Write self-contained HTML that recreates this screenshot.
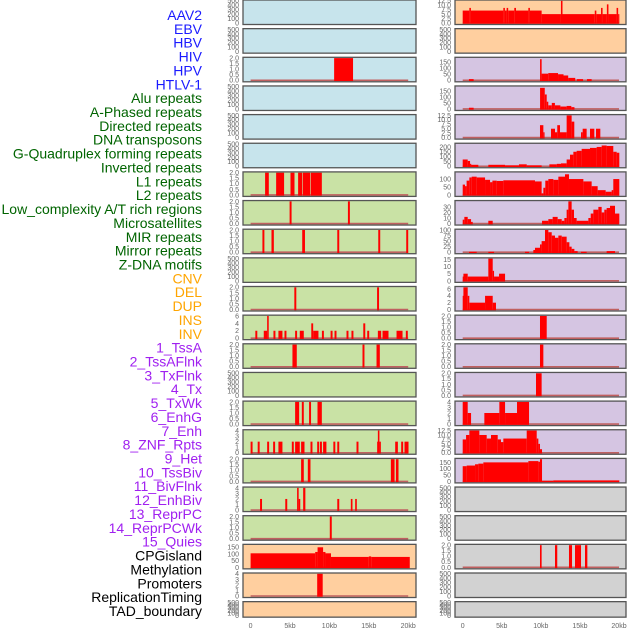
<!DOCTYPE html>
<html><head><meta charset="utf-8"><style>
html,body{margin:0;padding:0;background:#fff;}
svg{display:block;font-family:"Liberation Sans",sans-serif;}
</style></head><body>
<svg id="chart" width="630" height="630" viewBox="0 0 630 630" xmlns="http://www.w3.org/2000/svg"></svg>
<script>
const labels = ["AAV2","EBV","HBV","HIV","HPV","HTLV-1","Alu repeats","A-Phased repeats","Directed repeats","DNA transposons","G-Quadruplex forming repeats","Inverted repeats","L1 repeats","L2 repeats","Low_complexity A/T rich regions","Microsatellites","MIR repeats","Mirror repeats","Z-DNA motifs","CNV","DEL","DUP","INS","INV","1_TssA","2_TssAFlnk","3_TxFlnk","4_Tx","5_TxWk","6_EnhG","7_Enh","8_ZNF_Rpts","9_Het","10_TssBiv","11_BivFlnk","12_EnhBiv","13_ReprPC","14_ReprPCWk","15_Quies","CPGisland","Methylation","Promoters","ReplicationTiming","TAD_boundary"];
const labelGroups = [6,13,5,15,5];
const groupColors = ["#1a1aff","#006400","#ffa500","#a020f0","#000000"];
const xTicks = [0,5,10,15,20];
const xTickLabels = ["0","5kb","10kb","15kb","20kb"];
const leftBg = ["b","b","b","b","b","b","g","g","g","g","g","g","g","g","g","g","g","g","g","o","o","o"];
const rightBg = ["o","o","p","p","p","p","p","p","p","p","p","p","p","p","p","p","p","y","y","y","y","y"];
const leftYmax = [500,500,2,500,500,500,2,2,2,500,2,6,2,500,2,4,2,4,2,166,4,500];
const rightYmax = [12.5,500,184,184,12.5,230,140,40,100,15.5,6.5,2,2,2,4,12.5,175,500,500,2,500,500];
const leftTicks = [[0,100,200,300,400,500],[0,100,200,300,400,500],[0,0.5,1,1.5,2],[0,100,200,300,400,500],[0,100,200,300,400,500],[0,100,200,300,400,500],[0,0.5,1,1.5,2],[0,0.5,1,1.5,2],[0,0.5,1,1.5,2],[0,100,200,300,400,500],[0,0.5,1,1.5,2],[0,2,4,6],[0,0.5,1,1.5,2],[0,100,200,300,400,500],[0,0.5,1,1.5,2],[0,1,2,3,4],[0,0.5,1,1.5,2],[0,1,2,3,4],[0,0.5,1,1.5,2],[0,50,100,150],[0,1,2,3,4],[0,100,200,300,400,500]];
const rightTicks = [[0,2.5,5,7.5,10,12.5],[0,100,200,300,400,500],[0,50,100,150],[0,50,100,150],[0,2.5,5,7.5,10,12.5],[0,50,100,150,200],[0,50,100],[0,10,20,30],[0,25,50,75,100],[0,5,10,15],[0,2,4,6],[0,0.5,1,1.5,2],[0,0.5,1,1.5,2],[0,0.5,1,1.5,2],[0,1,2,3,4],[0,2.5,5,7.5,10,12.5],[0,50,100,150],[0,100,200,300,400,500],[0,100,200,300,400,500],[0,0.5,1,1.5,2],[0,100,200,300,400,500],[0,100,200,300,400,500]];
// segments: [startKb, endKb, value]
const leftSeries = [
 null,null,
 [[10.6,13.0,2]],
 null,null,null,
 [[1.84,2.31,2],[3.24,4.25,2],[5.06,5.57,2],[6.03,6.54,2],[6.62,7.56,2],[7.64,9.04,2]],
 [[4.95,5.2,2],[12.35,12.6,2]],
 [[1.5,1.75,2],[2.65,2.95,2],[6.55,6.9,2],[11.0,11.25,2],[16.2,16.45,2],[19.75,20.0,2]],
 null,
 [[5.55,5.8,2],[16.05,16.3,2]],
 [[0.6,0.85,2],[1.67,2.1,2],[2.1,2.3,6],[2.9,3.15,2],[3.53,4.04,2],[4.3,4.55,2],[5.65,5.9,2],[6.24,6.75,2],[7.7,7.94,4],[7.94,8.61,2],[9.05,9.3,2],[10.15,10.4,2],[10.65,10.9,2],[12.17,12.42,2],[12.8,13.05,2],[14.3,14.55,4],[14.8,15.05,2],[16.15,16.57,2],[16.74,17.5,2],[18.52,19.28,2],[19.7,19.95,2]],
 [[5.31,5.86,2],[14.2,14.45,2],[15.98,16.4,2]],
 null,
 [[5.65,6.16,2],[6.5,6.75,2],[7.42,7.67,2],[8.49,9.04,2]],
 [[0,0.25,2],[0.9,1.15,2],[2.1,2.35,2],[2.86,3.11,2],[3.53,4.04,2],[5.23,5.48,2],[5.65,6.24,2],[6.41,6.84,2],[7.6,7.85,2],[8.45,8.7,2],[8.8,9.05,2],[9.2,9.62,2],[10.5,10.75,2],[11.0,11.25,2],[13.44,13.69,2],[16.06,16.15,2],[16.15,16.35,4],[16.35,16.53,2],[18.35,18.69,2],[19.11,19.36,2],[19.53,20.04,2]],
 [[6.41,6.75,2],[7.26,7.6,2],[17.8,18.27,2],[18.44,18.77,2]],
 [[1.2,1.45,2],[4.4,4.65,2],[5.9,6.1,4],[6.1,6.3,2],[6.67,6.95,4],[11.0,11.25,2],[12.72,12.93,2],[13.27,13.48,2]],
 [[10.05,10.3,2]],
 [[0,8.2,105],[8.2,8.5,115],[8.5,9.2,150],[9.2,9.5,115],[9.5,10.2,105],[10.2,15.0,78],[15.0,15.3,82],[15.3,20.2,78]],
 [[8.45,9.15,4]],
 null
];
const rightSeries = [
 [[0,0.85,7],[0.85,1.05,8.5],[1.05,5.2,7],[5.2,5.4,8.5],[5.4,5.62,7],[5.62,5.82,8.5],[5.82,6.6,7],[6.6,6.82,8.5],[6.82,8.4,7],[8.4,8.6,8.5],[8.6,10.1,7],[10.1,12.57,5],[12.57,12.77,12.5],[12.77,16.9,5],[16.9,17.1,7],[17.1,17.7,5],[17.7,17.9,8.5],[17.9,18.45,5],[18.45,18.65,10.5],[18.65,19.69,5],[19.69,19.89,8.5],[19.89,20.0,5]],
 null,
 [[0.8,1.4,10],[9.9,10.1,175],[10.1,10.95,55],[10.95,12.2,60],[12.2,12.9,50],[12.9,13.5,40],[13.5,14.4,20],[14.6,15.4,10],[15.9,16.5,10]],
 [[0.8,1.4,10],[9.9,10.5,175],[10.5,10.75,120],[10.75,10.95,60],[10.95,11.4,30],[11.4,11.8,50],[11.8,12.5,30],[12.5,13.3,20],[13.3,13.9,25],[13.9,14.3,15]],
 [[9.89,10.32,7],[10.32,10.45,3],[11.3,11.81,5],[11.81,12.1,3],[12.1,12.45,7],[12.45,13.3,3],[13.3,13.94,12.5],[13.94,14.28,9],[15.14,15.35,3],[15.35,15.86,5],[16.29,16.84,5],[17.06,17.61,5]],
 [[0,0.64,70],[0.64,0.94,55],[0.94,1.07,25],[1.07,2.0,15],[3.28,5.42,15],[5.42,7.2,10],[7.2,8.19,20],[8.19,10.1,10],[11.09,12.03,20],[12.03,12.58,25],[12.58,13.3,30],[13.3,13.73,70],[13.73,14.16,120],[14.16,14.58,150],[14.58,15.22,160],[15.22,16.29,180],[16.29,17.14,190],[17.14,17.78,200],[17.78,18.42,215],[18.42,19.27,210],[19.27,19.7,150],[19.7,20.04,140]],
 [[0,0.3,65],[0.3,0.5,55],[0.5,0.85,90],[0.85,1.15,110],[1.15,1.79,115],[1.79,2.86,110],[2.86,3.5,95],[3.5,3.8,80],[3.8,4.35,90],[4.35,5.2,88],[5.2,9.25,92],[9.25,10.1,85],[10.1,10.32,10],[10.32,10.57,45],[10.57,10.96,90],[10.96,11.6,100],[11.6,12.24,95],[12.24,13.09,115],[13.09,13.6,130],[13.6,15.44,100],[15.44,16.5,85],[16.5,17.27,55],[17.27,18.29,30],[18.29,19.06,20],[19.06,19.27,30],[19.27,20.04,100]],
 [[0,0.21,7],[0.21,0.64,12],[0.64,1.07,8],[1.07,1.28,3],[3.28,3.84,5],[10.15,10.96,5],[10.96,11.51,8],[11.51,12.15,12],[12.15,12.67,8],[12.67,13.01,5],[13.01,13.3,10],[13.3,13.52,25],[13.52,13.94,40],[13.94,14.24,25],[14.24,14.58,10],[14.58,16.08,5],[16.08,16.38,10],[16.38,16.72,18],[16.72,17.36,25],[17.36,17.78,30],[17.78,18.12,20],[18.12,18.42,25],[18.42,18.85,28],[18.85,19.49,32],[19.49,20.04,18]],
 [[0.81,1.79,2],[3.28,4.01,2],[7.97,8.49,2],[9.04,9.25,10],[9.25,9.89,20],[9.89,10.1,35],[10.1,10.53,50],[10.53,10.96,100],[10.96,11.39,90],[11.39,11.81,75],[11.81,12.24,65],[12.24,12.67,75],[12.67,13.3,70],[13.3,13.65,45],[13.65,13.94,25],[13.94,14.29,15],[14.29,14.71,5],[15.14,15.86,2],[18.42,19.49,5]],
 [[0,0.09,3],[0.09,0.64,5],[0.64,3.28,3],[3.28,3.84,17],[3.84,4.01,7],[4.01,4.65,3],[4.65,5.42,5]],
 [[0,0.09,4],[0.09,0.64,6.5],[0.64,0.85,4],[0.85,2.86,2],[2.86,3.84,4],[3.84,4.26,2]],
 [[9.89,10.75,2]],
 [[9.89,10.32,2]],
 [[9.38,10.1,2]],
 [[0,0.64,4],[0.64,1.07,2],[2.77,4.69,2],[4.69,5.42,4],[5.42,6.95,2],[6.95,8.49,4]],
 [[0,0.43,7.5],[0.43,0.85,10],[0.85,2.13,12.5],[2.13,3.07,10],[3.07,3.62,8],[3.62,4.48,10],[4.48,4.9,7.5],[4.9,5.2,6],[5.2,8.19,8],[8.19,9.47,12.5],[9.47,9.68,8],[9.68,9.89,5],[9.89,10.15,2]],
 [[0,0.51,120],[0.51,1.58,125],[1.58,2.0,135],[2.0,2.64,140],[2.64,8.4,150],[8.4,9.68,160],[9.68,9.89,155],[9.89,10.15,175],[10.15,11.6,5],[11.6,20.04,8]],
 null,null,
 [[9.89,10.1,2],[11.81,12.1,2],[13.6,13.99,2],[14.37,15.14,2],[15.65,15.95,2]],
 null,null
];

const NS = "http://www.w3.org/2000/svg";
const svg = document.getElementById("chart");
const bgColors = {b:"#c7e4ec", g:"#c9e2a5", o:"#ffcf9f", p:"#d5c5e2", y:"#d2d2d2"};
const cols = [{x0:243, x1:416, d0:250.6, d1:408.2, tx:239, bg:leftBg, ym:leftYmax, tk:leftTicks, ser:leftSeries, side:"left"},
              {x0:455, x1:626, d0:462.7, d1:619.0, tx:451, bg:rightBg, ym:rightYmax, tk:rightTicks, ser:rightSeries, side:"right"}];
const PITCH = 28.65;
function mk(tag, attrs){const e=document.createElementNS(NS,tag);for(const k in attrs)e.setAttribute(k,attrs[k]);return e;}

// labels
let li = 0;
labelGroups.forEach((n,g)=>{
  for(let k=0;k<n;k++){
    const t = mk("text",{x:202, y:20+li*13.86, "text-anchor":"end", "font-size":"14", fill:groupColors[g]});
    
    
    t.textContent = labels[li];
    svg.appendChild(t);
    li++;
  }
});

cols.forEach(c=>{
  const xs = v => c.d0 + v/20*(c.d1-c.d0);
  for(let i=0;i<22;i++){
    const top = i*PITCH;
    const h = i===21 ? 15.5 : 24.5;
    const bot = top+h;
    const y0 = bot-1.5, yt = top+0.8;
    const ymax = c.ym[i];
    const ys = v => y0 - Math.min(v,ymax)/ymax*(y0-yt);
    const g = mk("g",{});
    
    
    const r = mk("rect",{x:c.x0, y:top, width:c.x1-c.x0, height:h, fill:bgColors[c.bg[i]]});
    
    
    g.appendChild(r);
    const s = c.ser[i];
    if(s){
      const bl = mk("line",{x1:xs(0), x2:xs(20), y1:y0, y2:y0, stroke:"#c06060", "stroke-width":"1.6"});
      
      
      g.appendChild(bl);
      s.forEach(seg=>{
        const x1 = xs(seg[0]), x2 = xs(seg[1]);
        const yv = ys(seg[2]);
        const b = mk("rect",{x:x1, y:yv, width:Math.max(x2-x1,1.2), height:y0-yv+0.8, fill:"#ff0000"});
        
        
        g.appendChild(b);
      });
    }
    const br = mk("rect",{x:c.x0, y:top, width:c.x1-c.x0, height:h, fill:"none", stroke:"#555", "stroke-width":"1.3"});
    
    
    g.appendChild(br);
    const tks = c.tk[i];
    const dec = tks.some(v=>v%1!==0);
    tks.forEach(v=>{
      const t = mk("text",{x:c.tx, y:ys(v)+2.4, "text-anchor":"end", "font-size":"7", fill:"#666"});
      
      
      t.textContent = dec ? v.toFixed(1) : String(v);
      g.appendChild(t);
    });
    svg.appendChild(g);
  }
  xTicks.forEach((v,k)=>{
    const t = mk("text",{x:xs(v), y:628, "text-anchor":"middle", "font-size":"7", fill:"#666"});
    
    
    t.textContent = xTickLabels[k];
    svg.appendChild(t);
  });
});
</script>
</body></html>
